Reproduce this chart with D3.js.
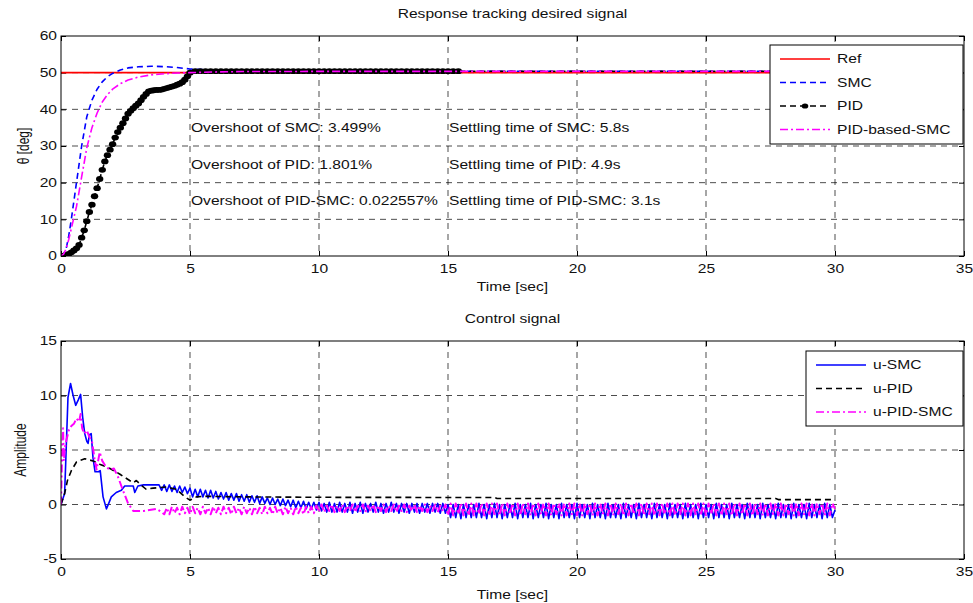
<!DOCTYPE html>
<html>
<head>
<meta charset="utf-8">
<script src="https://cdnjs.cloudflare.com/ajax/libs/d3/7.8.5/d3.min.js"></script>
<style>
body { margin: 0; background: #fff; }
svg { font-family: "Liberation Sans", Arial, sans-serif; }
</style>
</head>
<body>
<script>
// axis ticks
var xTicks = [0, 5, 10, 15, 20, 25, 30, 35];
var yTicksTop = [0, 10, 20, 30, 40, 50, 60];
var yTicksBot = [-5, 0, 5, 10, 15];

// --- top plot: response ---
var tRef = [0, 30];
var ref = [50, 50];

var tSmc = [0, 0.1, 0.2, 0.3, 0.4, 0.5, 0.6, 0.7, 0.8, 0.9, 1.0,
    1.2, 1.4, 1.6, 1.8, 2.0, 2.3, 2.6, 3.0, 3.5, 4.0, 4.5, 5.0,
    6, 7, 8, 10, 12, 15, 20, 25, 30];
var smc = [0, 0.5, 2, 5.5, 10, 15, 20, 25, 30, 34, 38,
    42.5, 45.5, 47.5, 48.9, 49.8, 50.7, 51.3, 51.6, 51.75, 51.65, 51.4, 51.0,
    50.7, 50.5, 50.45, 50.4, 50.4, 50.4, 50.4, 50.4, 50.4];
var pidSmc = [0, 0.5, 2, 4.5, 7.5, 10.5, 13.5, 17.5, 21.6, 25.5, 29.5,
    35, 39, 42, 44, 45.5, 47, 48, 48.8, 49.4, 49.7, 49.9, 50.0,
    50.2, 50.3, 50.3, 50.35, 50.35, 50.35, 50.35, 50.35, 50.35];

var tPid = [0.0, 0.1, 0.2, 0.3, 0.4, 0.5, 0.6, 0.7, 0.8, 0.9,
    1.0, 1.1, 1.2, 1.3, 1.4, 1.5, 1.6, 1.7, 1.8, 1.9,
    2.0, 2.1, 2.2, 2.3, 2.4, 2.5, 2.6, 2.7, 2.8, 2.9,
    3.0, 3.1, 3.2, 3.3, 3.4, 3.5, 3.6, 3.7, 3.8, 3.9,
    4.0, 4.1, 4.2, 4.3, 4.4, 4.5, 4.6, 4.7, 4.8, 4.9,
    5.0,
    5.2, 5.4, 5.6, 5.8, 6.0, 6.2, 6.4, 6.6, 6.8, 7.0,
    7.2, 7.4, 7.6, 7.8, 8.0, 8.2, 8.4, 8.6, 8.8, 9.0,
    9.2, 9.4, 9.6, 9.8, 10.0, 10.2, 10.4, 10.6, 10.8, 11.0,
    11.2, 11.4, 11.6, 11.8, 12.0, 12.2, 12.4, 12.6, 12.8, 13.0,
    13.2, 13.4, 13.6, 13.8, 14.0, 14.2, 14.4, 14.6, 14.8, 15.0,
    15.2, 15.4,
    30];
var pid = [0, 0.1, 0.3, 0.6, 1.0, 1.5, 2.1, 3.0, 5.0, 7.0,
    9.5, 12, 14, 16.3, 18.5, 21, 23.5, 25.8, 27.5, 29,
    30.5, 32.3, 33.8, 35, 36.2, 37.5, 38.8, 39.6, 40.3, 41,
    41.6, 42.5, 43.4, 44.2, 44.9, 45.1, 45.2, 45.3, 45.3, 45.4,
    45.6, 45.8, 46.0, 46.2, 46.4, 46.7, 47.0, 47.4, 48.1, 49.0,
    50.0,
    50.4, 50.4, 50.4, 50.4, 50.4, 50.4, 50.4, 50.4, 50.4, 50.4,
    50.4, 50.4, 50.4, 50.4, 50.4, 50.4, 50.4, 50.4, 50.4, 50.4,
    50.4, 50.4, 50.4, 50.4, 50.4, 50.4, 50.4, 50.4, 50.4, 50.4,
    50.4, 50.4, 50.4, 50.4, 50.4, 50.4, 50.4, 50.4, 50.4, 50.4,
    50.4, 50.4, 50.4, 50.4, 50.4, 50.4, 50.4, 50.4, 50.4, 50.4,
    50.4, 50.4,
    50.4];
var pidMarkerEnd = 15.4;

var noteRows = [35, 25, 15];
var overshootNotes = ['Overshoot of SMC: 3.499%', 'Overshoot of PID: 1.801%', 'Overshoot of PID-SMC: 0.022557%'];
var settlingNotes = ['Settling time of SMC: 5.8s', 'Settling time of PID: 4.9s', 'Settling time of PID-SMC: 3.1s'];
var noteCols = [5, 15];

// --- bottom plot: control signals ---
var tUSmc = [0, 0.14, 0.2, 0.27, 0.37, 0.47, 0.57, 0.67, 0.76, 0.84, 0.92, 1.0, 1.05, 1.1, 1.17,
    1.24, 1.32, 1.45, 1.52, 1.63, 1.76, 1.85, 1.95, 2.14, 2.34, 2.47, 2.8, 2.86, 2.98, 3.2, 3.8, 3.9];
var uSmc = [0, 1, 5, 9.8, 11.1, 10.0, 9.1, 9.6, 10.1, 8.0, 6.5, 5.8, 5.6, 6.4, 6.5,
    4.3, 3.0, 3.0, 3.1, 0.7, -0.4, 0.1, 0.7, 1.1, 1.3, 1.7, 1.7, 1.1, 1.7, 1.8, 1.8, 1.3];

var tUPid = [0, 0.14, 0.25, 0.4, 0.6, 0.92, 1.24, 1.5, 1.9, 2.27, 2.66, 2.8, 2.92, 3.05, 3.3, 3.57,
    4.08, 4.47, 4.8, 5.0, 5.25, 5.6, 7, 10, 16.8, 16.9, 27.7, 27.8, 30];
var uPid = [0, 1, 2.2, 3.1, 3.9, 4.2, 4.0, 3.7, 3.3, 2.8, 2.2, 2.0, 2.2, 1.9, 1.4, 1.5,
    1.6, 1.4, 0.7, 0.4, 0.7, 0.75, 0.7, 0.66, 0.64, 0.55, 0.55, 0.45, 0.45];

var tUPidSmc = [0, 0.04, 0.08, 0.11, 0.15, 0.2, 0.3, 0.4, 0.5, 0.6, 0.7, 0.76, 0.82, 0.9, 1.0,
    1.1, 1.2, 1.3, 1.38, 1.5, 1.6, 1.76, 1.9, 2.05, 2.2, 2.4, 2.6, 2.8, 3.2, 3.7, 3.9];
var uPidSmc = [0, 4.5, 7.0, 4.0, 5.2, 5.8, 6.8, 7.2, 7.4, 7.9, 7.6, 8.3, 7.0, 6.5, 6.8,
    6.2, 5.8, 4.2, 3.2, 4.8, 4.0, 3.4, 3.2, 3.3, 2.6, 1.3, 0.1, -0.6, -0.6, -0.4, -0.7];

// chattering part, sampled every 0.1 s
var tChat = [4.0, 4.1, 4.2, 4.3, 4.4, 4.5, 4.6, 4.7, 4.8, 4.9,
    5.0, 5.1, 5.2, 5.3, 5.4, 5.5, 5.6, 5.7, 5.8, 5.9,
    6.0, 6.1, 6.2, 6.3, 6.4, 6.5, 6.6, 6.7, 6.8, 6.9,
    7.0, 7.1, 7.2, 7.3, 7.4, 7.5, 7.6, 7.7, 7.8, 7.9,
    8.0, 8.1, 8.2, 8.3, 8.4, 8.5, 8.6, 8.7, 8.8, 8.9,
    9.0, 9.1, 9.2, 9.3, 9.4, 9.5, 9.6, 9.7, 9.8, 9.9,
    10.0, 10.1, 10.2, 10.3, 10.4, 10.5, 10.6, 10.7, 10.8, 10.9,
    11.0, 11.1, 11.2, 11.3, 11.4, 11.5, 11.6, 11.7, 11.8, 11.9,
    12.0, 12.1, 12.2, 12.3, 12.4, 12.5, 12.6, 12.7, 12.8, 12.9,
    13.0, 13.1, 13.2, 13.3, 13.4, 13.5, 13.6, 13.7, 13.8, 13.9,
    14.0, 14.1, 14.2, 14.3, 14.4, 14.5, 14.6, 14.7, 14.8, 14.9,
    15.0, 15.1, 15.2, 15.3, 15.4, 15.5, 15.6, 15.7, 15.8, 15.9,
    16.0, 16.1, 16.2, 16.3, 16.4, 16.5, 16.6, 16.7, 16.8, 16.9,
    17.0, 17.1, 17.2, 17.3, 17.4, 17.5, 17.6, 17.7, 17.8, 17.9,
    18.0, 18.1, 18.2, 18.3, 18.4, 18.5, 18.6, 18.7, 18.8, 18.9,
    19.0, 19.1, 19.2, 19.3, 19.4, 19.5, 19.6, 19.7, 19.8, 19.9,
    20.0, 20.1, 20.2, 20.3, 20.4, 20.5, 20.6, 20.7, 20.8, 20.9,
    21.0, 21.1, 21.2, 21.3, 21.4, 21.5, 21.6, 21.7, 21.8, 21.9,
    22.0, 22.1, 22.2, 22.3, 22.4, 22.5, 22.6, 22.7, 22.8, 22.9,
    23.0, 23.1, 23.2, 23.3, 23.4, 23.5, 23.6, 23.7, 23.8, 23.9,
    24.0, 24.1, 24.2, 24.3, 24.4, 24.5, 24.6, 24.7, 24.8, 24.9,
    25.0, 25.1, 25.2, 25.3, 25.4, 25.5, 25.6, 25.7, 25.8, 25.9,
    26.0, 26.1, 26.2, 26.3, 26.4, 26.5, 26.6, 26.7, 26.8, 26.9,
    27.0, 27.1, 27.2, 27.3, 27.4, 27.5, 27.6, 27.7, 27.8, 27.9,
    28.0, 28.1, 28.2, 28.3, 28.4, 28.5, 28.6, 28.7, 28.8, 28.9,
    29.0, 29.1, 29.2, 29.3, 29.4, 29.5, 29.6, 29.7, 29.8, 29.9,
    30.0];
var uSmcChat = [1.8, 1.2, 1.8, 1.2, 1.7, 1.1, 1.7, 1.1, 1.6, 1.0,
    1.5, 0.7, 1.4, 0.7, 1.4, 0.7, 1.3, 0.6, 1.3, 0.6,
    1.2, 0.5, 1.1, 0.5, 1.1, 0.4, 1.0, 0.4, 1.0, 0.3,
    0.9, 0.3, 0.9, 0.2, 0.8, 0.2, 0.8, 0.1, 0.7, 0.1,
    0.6, 0.0, 0.6, 0.0, 0.5, -0.1, 0.5, -0.1, 0.4, -0.2,
    0.4, -0.3, 0.3, -0.3, 0.3, -0.4, 0.2, -0.4, 0.2, -0.5,
    0.2, -0.6, 0.1, -0.7, 0.2, -0.7, 0.1, -0.7, 0.2, -0.7,
    0.1, -0.7, 0.2, -0.8, 0.1, -0.7, 0.2, -0.8, 0.1, -0.7,
    0.1, -0.7, 0.2, -0.7, 0.1, -0.8, 0.1, -0.7, 0.2, -0.7,
    0.1, -0.8, 0.1, -0.7, 0.1, -0.8, 0.1, -0.7, 0.1, -0.8,
    0.1, -0.7, 0.1, -0.8, 0.1, -0.7, 0.1, -0.8, 0.1, -0.8,
    0.0, -1.2, 0.0, -1.2, 0.0, -1.3, 0.0, -1.2, 0.0, -1.2,
    0.0, -1.2, 0.1, -1.2, 0.0, -1.3, 0.0, -1.2, 0.1, -1.2,
    0.0, -1.3, 0.0, -1.2, 0.0, -1.2, 0.1, -1.3, 0.0, -1.2,
    0.0, -1.2, 0.1, -1.3, 0.0, -1.2, 0.0, -1.2, 0.1, -1.3,
    0.0, -1.2, 0.0, -1.3, 0.1, -1.2, 0.0, -1.2, 0.0, -1.3,
    0.1, -1.2, 0.0, -1.2, 0.0, -1.3, 0.1, -1.2, 0.0, -1.2,
    0.0, -1.3, 0.1, -1.2, 0.0, -1.2, 0.0, -1.3, 0.1, -1.2,
    0.0, -1.2, 0.0, -1.3, 0.1, -1.2, 0.0, -1.2, 0.0, -1.3,
    0.1, -1.2, 0.0, -1.2, 0.0, -1.3, 0.1, -1.2, 0.0, -1.2,
    0.0, -1.3, 0.1, -1.2, 0.0, -1.2, 0.0, -1.3, 0.1, -1.2,
    0.0, -1.2, 0.0, -1.3, 0.1, -1.2, 0.0, -1.2, 0.0, -1.3,
    0.1, -1.2, 0.0, -1.2, 0.0, -1.3, 0.1, -1.2, 0.0, -1.2,
    0.0, -1.3, 0.1, -1.2, 0.0, -1.2, 0.0, -1.3, 0.1, -1.2,
    0.0, -1.2, 0.0, -1.3, 0.1, -1.2, 0.0, -1.2, 0.0, -1.3,
    0.1, -1.2, 0.0, -1.2, 0.0, -1.3, 0.1, -1.2, 0.0, -1.2,
    -0.5];
var uPidSmcChat = [-0.9, -0.3, -0.9, -0.2, -0.8, -0.3, -0.9, -0.2, -0.8, -0.3,
    -0.9, -0.2, -0.8, -0.3, -0.9, -0.2, -0.8, -0.3, -0.9, -0.2,
    -0.8, -0.3, -0.9, -0.2, -0.8, -0.3, -0.9, -0.2, -0.8, -0.3,
    -0.9, -0.2, -0.8, -0.3, -0.9, -0.2, -0.8, -0.3, -0.9, -0.2,
    -0.8, -0.3, -0.9, -0.2, -0.8, -0.3, -0.9, -0.2, -0.8, -0.3,
    -0.9, -0.2, -0.8, -0.3, -0.9, -0.2, -0.8, -0.2, -0.8, -0.1,
    -0.7, 0.0, -0.7, -0.1, -0.6, 0.0, -0.7, -0.1, -0.6, 0.0,
    -0.7, -0.1, -0.6, 0.0, -0.7, -0.1, -0.6, 0.0, -0.7, -0.1,
    -0.6, 0.0, -0.7, -0.1, -0.6, 0.0, -0.7, -0.1, -0.6, 0.0,
    -0.7, -0.1, -0.6, 0.0, -0.7, -0.1, -0.6, 0.0, -0.7, -0.1,
    -0.6, 0.0, -0.7, -0.1, -0.6, 0.0, -0.7, -0.1, -0.6, 0.0,
    -1.0, 0.1, -1.0, 0.1, -0.9, 0.1, -1.0, 0.1, -1.0, 0.1,
    -1.0, 0.1, -0.9, 0.1, -1.0, 0.1, -1.0, 0.1, -0.9, 0.1,
    -1.0, 0.1, -1.0, 0.1, -0.9, 0.1, -1.0, 0.1, -1.0, 0.1,
    -0.9, 0.1, -1.0, 0.1, -1.0, 0.1, -0.9, 0.1, -1.0, 0.1,
    -1.0, 0.1, -0.9, 0.1, -1.0, 0.1, -1.0, 0.1, -0.9, 0.1,
    -1.0, 0.1, -1.0, 0.1, -0.9, 0.1, -1.0, 0.1, -1.0, 0.1,
    -0.9, 0.1, -1.0, 0.1, -1.0, 0.1, -0.9, 0.1, -1.0, 0.1,
    -1.0, 0.1, -0.9, 0.1, -1.0, 0.1, -1.0, 0.1, -0.9, 0.1,
    -1.0, 0.1, -1.0, 0.1, -0.9, 0.1, -1.0, 0.1, -1.0, 0.1,
    -0.9, 0.1, -1.0, 0.1, -1.0, 0.1, -0.9, 0.1, -1.0, 0.1,
    -1.0, 0.1, -0.9, 0.1, -1.0, 0.1, -1.0, 0.1, -0.9, 0.1,
    -1.0, 0.1, -1.0, 0.1, -0.9, 0.1, -1.0, 0.1, -1.0, 0.1,
    -0.9, 0.1, -1.0, 0.1, -1.0, 0.1, -0.9, 0.1, -1.0, 0.1,
    -1.0, 0.1, -0.9, 0.1, -1.0, 0.1, -1.0, 0.1, -0.9, 0.1,
    -1.0, 0.1, -1.0, 0.1, -0.9, 0.1, -1.0, 0.1, -1.0, 0.1,
    -0.4];

// --- layout ---
var svgWidth = 973;
var svgHeight = 603;
var plotLeft = 61;
var plotRight = 964;
var fontSize = 12;
// the picture is stretched sideways, so text is too
var stretch = 1.3;

var svg = d3.select('body').append('svg')
    .attr('width', svgWidth)
    .attr('height', svgHeight);

function label(x, y, str, anchor, rotate) {
    return svg.append('text')
        .attr('transform', 'translate(' + x + ',' + y + ') scale(' + stretch + ',1)' + (rotate ? ' rotate(-90)' : ''))
        .attr('text-anchor', anchor || 'start')
        .attr('dominant-baseline', 'central')
        .attr('font-size', fontSize)
        .attr('fill', '#111')
        .text(str);
}

function pairs(t, v) {
    return t.map(function(d, i) { return [d, v[i]]; });
}

function makePanel(top, bottom, yDomain, yTicks, id) {
    var x = d3.scaleLinear().domain([0, 35]).range([plotLeft, plotRight]);
    var y = d3.scaleLinear().domain(yDomain).range([bottom, top]);
    var g = svg.append('g');

    g.append('rect')
        .attr('x', plotLeft).attr('y', top)
        .attr('width', plotRight - plotLeft).attr('height', bottom - top)
        .attr('fill', '#fff');

    // dashed grid
    g.selectAll('line.gx').data(xTicks.slice(1, -1)).enter().append('line')
        .attr('x1', function(d) { return x(d); })
        .attr('x2', function(d) { return x(d); })
        .attr('y1', top).attr('y2', bottom)
        .attr('stroke', '#000').attr('stroke-width', 0.7).attr('stroke-dasharray', '6,5');
    g.selectAll('line.gy').data(yTicks.slice(1, -1)).enter().append('line')
        .attr('x1', plotLeft).attr('x2', plotRight)
        .attr('y1', function(d) { return y(d); })
        .attr('y2', function(d) { return y(d); })
        .attr('stroke', '#000').attr('stroke-width', 0.7).attr('stroke-dasharray', '6,5');

    var fmt = function(d) { return String(d); };
    var gx = g.append('g').attr('transform', 'translate(0,' + bottom + ')')
        .call(d3.axisBottom(x).tickValues(xTicks).tickFormat(fmt).tickSizeInner(-5).tickSizeOuter(0).tickPadding(8));
    g.append('g').attr('transform', 'translate(0,' + top + ')')
        .call(d3.axisTop(x).tickValues(xTicks).tickFormat('').tickSizeInner(-5).tickSizeOuter(0));
    var gy = g.append('g').attr('transform', 'translate(' + plotLeft + ',0)')
        .call(d3.axisLeft(y).tickValues(yTicks).tickFormat(fmt).tickSizeInner(-5).tickSizeOuter(0).tickPadding(4));
    g.append('g').attr('transform', 'translate(' + plotRight + ',0)')
        .call(d3.axisRight(y).tickValues(yTicks).tickFormat('').tickSizeInner(-5).tickSizeOuter(0));

    g.selectAll('.domain').remove();
    g.selectAll('.tick line').attr('stroke', '#000');
    g.selectAll('g').attr('font-family', null).attr('font-size', fontSize);
    gx.selectAll('text').attr('transform', 'scale(' + stretch + ',1)').attr('fill', '#111');
    gy.selectAll('text').attr('x', -4 / stretch).attr('transform', 'scale(' + stretch + ',1)').attr('fill', '#111');

    svg.append('clipPath').attr('id', 'clip' + id).append('rect')
        .attr('x', plotLeft).attr('y', top)
        .attr('width', plotRight - plotLeft).attr('height', bottom - top);
    var plot = svg.append('g').attr('clip-path', 'url(#clip' + id + ')');

    return { x: x, y: y, plot: plot, top: top, bottom: bottom };
}

function drawLine(p, data, color, width, dash) {
    var line = d3.line()
        .x(function(d) { return p.x(d[0]); })
        .y(function(d) { return p.y(d[1]); });
    p.plot.append('path')
        .datum(data)
        .attr('d', line)
        .attr('fill', 'none')
        .attr('stroke', color)
        .attr('stroke-width', width)
        .attr('stroke-dasharray', dash || null)
        .attr('stroke-linejoin', 'round');
}

function drawBox(p) {
    svg.append('rect')
        .attr('x', plotLeft).attr('y', p.top)
        .attr('width', plotRight - plotLeft).attr('height', p.bottom - p.top)
        .attr('fill', 'none').attr('stroke', '#000').attr('stroke-width', 1);
}

function legend(x0, y0, w, h, items) {
    svg.append('rect')
        .attr('x', x0).attr('y', y0).attr('width', w).attr('height', h)
        .attr('fill', '#fff').attr('stroke', '#000').attr('stroke-width', 1);
    items.forEach(function(it, i) {
        var yy = y0 + 14 + i * 23.5;
        svg.append('line')
            .attr('x1', x0 + 10).attr('x2', x0 + 60)
            .attr('y1', yy).attr('y2', yy)
            .attr('stroke', it.color).attr('stroke-width', it.width)
            .attr('stroke-dasharray', it.dash || null);
        if (it.marker) {
            svg.append('ellipse')
                .attr('cx', x0 + 35).attr('cy', yy).attr('rx', 3.3).attr('ry', 2.6)
                .attr('fill', it.color);
        }
        label(x0 + 67, yy, it.name);
    });
}

var dashBlue = '6,4';
var dashBlack = '6,4';
var dashDot = '8,3,2,3';

// ---- top panel ----
var p1 = makePanel(36, 256, [0, 60], yTicksTop, 1);
drawLine(p1, pairs(tRef, ref), '#ff0000', 1.6);
drawLine(p1, pairs(tSmc, smc), '#0000ff', 1.6, dashBlue);
drawLine(p1, pairs(tPid, pid), '#000', 1.6, dashBlack);
p1.plot.selectAll('ellipse.pid')
    .data(pairs(tPid, pid).filter(function(d) { return d[0] <= pidMarkerEnd; }))
    .enter().append('ellipse')
    .attr('cx', function(d) { return p1.x(d[0]); })
    .attr('cy', function(d) { return p1.y(d[1]); })
    .attr('rx', 3.7).attr('ry', 2.9)
    .attr('fill', '#000');
drawLine(p1, pairs(tSmc, pidSmc), '#ff00ff', 1.6, dashDot);
drawBox(p1);

noteRows.forEach(function(r, i) {
    label(p1.x(noteCols[0]) + 1, p1.y(r), overshootNotes[i]);
    label(p1.x(noteCols[1]) + 1, p1.y(r), settlingNotes[i]);
});

legend(770, 45, 193, 99, [
    { name: 'Ref', color: '#ff0000', width: 1.6 },
    { name: 'SMC', color: '#0000ff', width: 1.6, dash: dashBlue },
    { name: 'PID', color: '#000', width: 1.6, dash: dashBlack, marker: true },
    { name: 'PID-based-SMC', color: '#ff00ff', width: 1.6, dash: dashDot }
]);

label((plotLeft + plotRight) / 2, 14, 'Response tracking desired signal', 'middle');
label((plotLeft + plotRight) / 2, 287, 'Time [sec]', 'middle');
label(23, 146, 'θ [deg]', 'middle', true);

// ---- bottom panel ----
var p2 = makePanel(341, 559, [-5, 15], yTicksBot, 2);
drawLine(p2, pairs(tUSmc, uSmc).concat(pairs(tChat, uSmcChat)), '#0000ff', 1.6);
drawLine(p2, pairs(tUPid, uPid), '#000', 1.6, dashBlack);
drawLine(p2, pairs(tUPidSmc, uPidSmc).concat(pairs(tChat, uPidSmcChat)), '#ff00ff', 2, dashDot);
drawBox(p2);

legend(806, 351, 157, 75, [
    { name: 'u-SMC', color: '#0000ff', width: 1.6 },
    { name: 'u-PID', color: '#000', width: 1.6, dash: dashBlack },
    { name: 'u-PID-SMC', color: '#ff00ff', width: 1.6, dash: dashDot }
]);

label((plotLeft + plotRight) / 2, 319, 'Control signal', 'middle');
label((plotLeft + plotRight) / 2, 595, 'Time [sec]', 'middle');
label(20, 450, 'Amplitude', 'middle', true);
</script>
</body>
</html>
